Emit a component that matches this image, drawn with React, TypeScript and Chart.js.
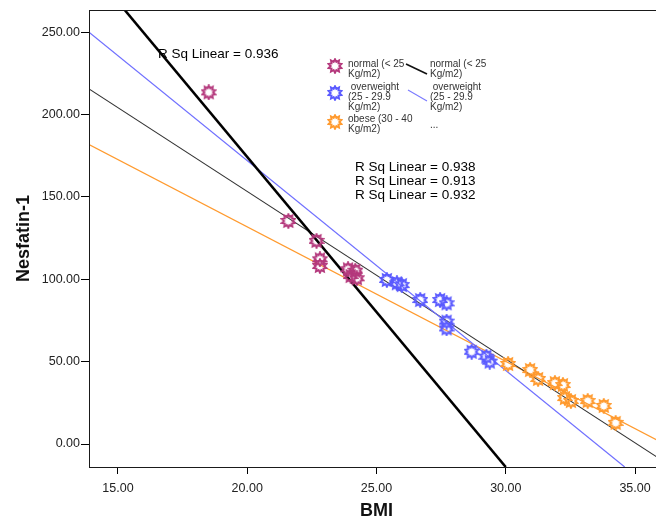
import React, { useEffect, useRef } from "react";
import { Chart, registerables } from "chart.js";

Chart.register(...registerables);

// ---- data ----
const normalBMI = [18.51, 21.59, 22.68, 22.81, 22.81, 23.9, 24.18, 24.24, 24.0];
const normalNesfatin = [213.5, 135.4, 123.3, 112.1, 108.1, 106.1, 105.2, 100.6, 102.0];

const overweightBMI = [25.4, 25.79, 25.98, 26.69, 27.46, 27.71, 27.71, 27.71, 28.68, 29.25, 29.38];
const overweightNesfatin = [99.6, 97.6, 96.5, 87.4, 87.4, 85.4, 74.3, 70.2, 56.0, 53.0, 50.0];

const obeseBMI = [30.09, 30.94, 31.25, 31.9, 32.21, 32.29, 32.52, 33.17, 33.79, 34.25];
const obeseNesfatin = [48.6, 44.9, 39.5, 37.0, 35.8, 27.9, 26.1, 26.1, 23.1, 12.8];

// fit lines (end points in data units)
const normalFitX = [15.26, 30.0];
const normalFitY = [263.5, -13.96];
const overweightFitX = [13.88, 34.6];
const overweightFitY = [250.0, -13.96];
const totalFitX = [13.88, 36.12];
const totalFitY = [215.6, -10.7];
const obeseFitX = [13.88, 36.12];
const obeseFitY = [181.8, 0.2];

const xTicks = [15, 20, 25, 30, 35];
const yTicks = [0, 50, 100, 150, 200, 250];
const xRange = [13.88, 36.12];
const yRange = [-13.96, 263.5];

const rsqNormal = "R Sq Linear = 0.936";
const rsqList = ["R Sq Linear = 0.938", "R Sq Linear = 0.913", "R Sq Linear = 0.932"];

const legendLeft = [
  ["normal (< 25", "Kg/m2)"],
  [" overweight", "(25 - 29.9", "Kg/m2)"],
  ["obese (30 - 40", "Kg/m2)"],
];
const legendRight = [
  ["normal (< 25", "Kg/m2)"],
  [" overweight", "(25 - 29.9", "Kg/m2)"],
  ["..."],
];

const C_NORMAL = "#b4387c";
const C_OVER = "#5a5aff";
const C_OBESE = "#ff9a2e";
const FONT = "'Liberation Sans', Arial, sans-serif";

function starburst(color: string): HTMLCanvasElement {
  const c = document.createElement("canvas");
  c.width = 16;
  c.height = 16;
  const ctx = c.getContext("2d")!;
  const n = 10;
  const ro = 6.8;
  const ri = 4.3;
  ctx.beginPath();
  for (let i = 0; i < 2 * n; i++) {
    const r = i % 2 === 0 ? ro : ri;
    const a = (i * Math.PI) / n - Math.PI / 2;
    const x = 8 + r * Math.cos(a);
    const y = 8 + r * Math.sin(a);
    if (i === 0) ctx.moveTo(x, y);
    else ctx.lineTo(x, y);
  }
  ctx.closePath();
  ctx.strokeStyle = color;
  ctx.lineWidth = 1.9;
  ctx.stroke();
  return c;
}

const pts = (xs: number[], ys: number[]) => xs.map((x, i) => ({ x, y: ys[i] }));

export default function App() {
  const ref = useRef<HTMLCanvasElement | null>(null);

  useEffect(() => {
    if (!ref.current) return;
    const mNormal = starburst(C_NORMAL);
    const mOver = starburst(C_OVER);
    const mObese = starburst(C_OBESE);

    const framePlugin = {
      id: "frame",
      afterDraw(chart: any) {
        const { ctx, chartArea } = chart;
        const { left, top, right, bottom } = chartArea;
        ctx.save();
        ctx.strokeStyle = "#1a1a1a";
        ctx.lineWidth = 1;
        ctx.strokeRect(Math.round(left) + 0.5, Math.round(top) + 0.5, Math.round(right - left), Math.round(bottom - top));

        // R square annotations
        ctx.fillStyle = "#000";
        ctx.font = `13.5px ${FONT}`;
        ctx.textBaseline = "middle";
        ctx.textAlign = "left";
        ctx.fillText(rsqNormal, 158, 54);
        rsqList.forEach((t, i) => ctx.fillText(t, 355, 167 + i * 14));

        // legend
        const markers = [mNormal, mOver, mObese];
        const markerY = [66, 93, 122];
        markers.forEach((m, i) => ctx.drawImage(m, 335 - 8, markerY[i] - 8));
        ctx.font = `10px ${FONT}`;
        ctx.fillStyle = "#333";
        const leftY = [64, 87, 119];
        legendLeft.forEach((lines, i) =>
          lines.forEach((t, j) => ctx.fillText(t, 348, leftY[i] + j * 10))
        );
        const rightY = [64, 87, 125];
        legendRight.forEach((lines, i) =>
          lines.forEach((t, j) => ctx.fillText(t, 430, rightY[i] + j * 10))
        );
        ctx.strokeStyle = "#111";
        ctx.lineWidth = 1.6;
        ctx.beginPath();
        ctx.moveTo(406, 64);
        ctx.lineTo(427, 74);
        ctx.stroke();
        ctx.strokeStyle = "#7a7aff";
        ctx.lineWidth = 1.1;
        ctx.beginPath();
        ctx.moveTo(408, 90);
        ctx.lineTo(427, 101);
        ctx.stroke();
        ctx.restore();
      },
    };

    const chart = new Chart(ref.current, {
      type: "scatter",
      data: {
        datasets: [
          { label: "normal", data: pts(normalBMI, normalNesfatin), pointStyle: mNormal as any, pointRadius: 7, showLine: false },
          { label: "overweight", data: pts(overweightBMI, overweightNesfatin), pointStyle: mOver as any, pointRadius: 7, showLine: false },
          { label: "obese", data: pts(obeseBMI, obeseNesfatin), pointStyle: mObese as any, pointRadius: 7, showLine: false },
          { label: "fit normal", data: pts(normalFitX, normalFitY), showLine: true, borderColor: "#000", borderWidth: 2.6, pointRadius: 0 },
          { label: "fit overweight", data: pts(overweightFitX, overweightFitY), showLine: true, borderColor: "#7070ff", borderWidth: 1.2, pointRadius: 0 },
          { label: "fit total", data: pts(totalFitX, totalFitY), showLine: true, borderColor: "#333", borderWidth: 1.1, pointRadius: 0 },
          { label: "fit obese", data: pts(obeseFitX, obeseFitY), showLine: true, borderColor: "#ff9a2e", borderWidth: 1.3, pointRadius: 0 },
        ],
      },
      options: {
        animation: false,
        responsive: false,
        events: [],
        layout: { padding: { left: 0, top: 10, right: 5, bottom: 0 } },
        plugins: { legend: { display: false }, tooltip: { enabled: false } },
        scales: {
          x: {
            type: "linear",
            min: xRange[0],
            max: xRange[1],
            afterBuildTicks: (s: any) => { s.ticks = xTicks.map((v) => ({ value: v })); },
            afterFit: (s: any) => { s.height = 55; },
            border: { display: false },
            grid: { drawOnChartArea: false, drawTicks: true, tickLength: 7, color: "#000" },
            ticks: { padding: 7, color: "#222", font: { family: FONT, size: 12.5 }, callback: (v: any) => Number(v).toFixed(2), maxRotation: 0 },
            title: { display: true, text: "BMI", color: "#111", font: { family: FONT, size: 18, weight: "bold" }, padding: { top: -3.5, bottom: 0 } },
          },
          y: {
            type: "linear",
            min: yRange[0],
            max: yRange[1],
            afterBuildTicks: (s: any) => { s.ticks = yTicks.map((v) => ({ value: v })); },
            afterFit: (s: any) => { s.width = 89; },
            border: { display: false },
            grid: { drawOnChartArea: false, drawTicks: true, tickLength: 8, color: "#000" },
            ticks: { padding: 1, color: "#222", font: { family: FONT, size: 12.5 }, callback: (v: any) => Number(v).toFixed(2) },
            title: { display: true, text: "Nesfatin-1", color: "#111", font: { family: FONT, size: 18, weight: "bold" }, padding: { top: 13.5, bottom: 0 } },
          },
        },
      },
      plugins: [framePlugin],
    } as any);
    return () => chart.destroy();
  }, []);

  return (
    <div style={{ position: "absolute", left: 0, top: 0, width: 656, height: 522, overflow: "hidden", background: "#fff" }}>
      <canvas ref={ref} width={672} height={522} style={{ display: "block" }} />
    </div>
  );
}
